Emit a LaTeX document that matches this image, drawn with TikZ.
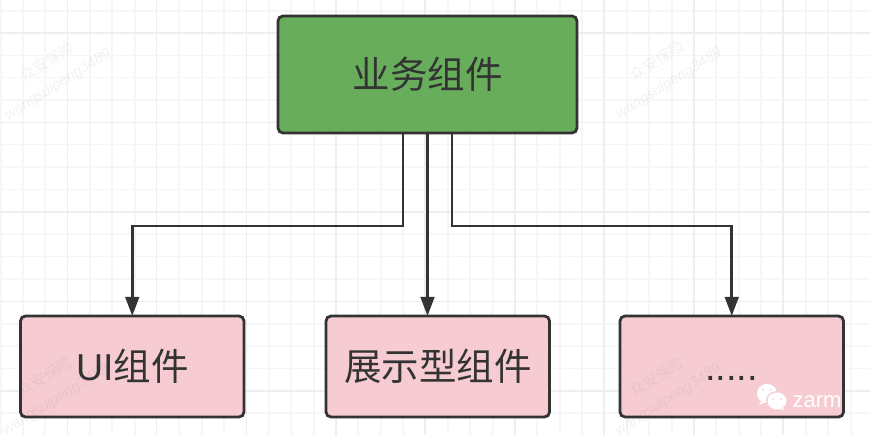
\documentclass[tikz,border=0pt]{standalone}
\usepackage{fontspec}
\setmainfont{Noto Sans CJK SC}
\newfontfamily\latinfont{Liberation Sans}
\usetikzlibrary{arrows.meta}
\definecolor{gridminor}{HTML}{F6F6F6}
\definecolor{gridmajor}{HTML}{EEEEEE}
\definecolor{edgedark}{HTML}{333333}
\definecolor{topgreen}{HTML}{67AD5B}
\definecolor{subpink}{HTML}{F6CCD2}
\tikzset{
  compbox/.style = {draw=edgedark, line width=2.8pt, rounded corners=5pt, inner sep=0pt, outer sep=0pt,
                    text=edgedark, font=\fontsize{37.5}{38}\selectfont, anchor=north west},
  link/.style = {draw=edgedark, line width=2.8pt, -{Triangle[length=19pt, width=13.5pt]}},
  mark text/.style = {black, text opacity=0.05, rotate=32, font=\fontsize{15}{15}\selectfont\itshape}
}
\begin{document}
\begin{tikzpicture}[x=1pt, y=-1pt]
  \useasboundingbox (0, 0) rectangle (870, 435);
  % background grid
  \foreach \gx in {1, 23, 45, 67.7, 90, 112, 135, 156.7, 179, 202, 224, 246.7, 269, 291, 314, 336,
                   358, 381, 403, 425, 448, 470, 493, 515, 537, 560, 582, 604, 627, 649, 672,
                   694, 716, 739, 761, 783, 806, 828, 851}
    \draw [gridminor, line width=1.5pt] (\gx, 0) -- (\gx, 435);
  \foreach \gy in {11, 33, 55.7, 77.7, 100, 122.3, 144.5, 167, 189.5, 212, 234, 256.5, 279, 301.5,
                   324, 346, 368.5, 391, 413}
    \draw [gridminor, line width=1.5pt] (0, \gy) -- (870, \gy);
  \foreach \gx in {67.7, 156.7, 246.7, 336, 425, 515, 604, 694, 783}
    \draw [gridmajor, line width=1.5pt] (\gx, 0) -- (\gx, 435);
  \foreach \gy in {33, 122.3, 212, 301.5, 391}
    \draw [gridmajor, line width=1.5pt] (0, \gy) -- (870, \gy);
  % boxes
  \node [compbox, fill=topgreen, minimum width=299pt, minimum height=117pt] (top) at (278, 16) {业务组件};
  \node [compbox, fill=subpink, minimum width=223.5pt, minimum height=101pt] (ui) at (20.5, 316) {\latinfont UI\normalfont 组件};
  \node [compbox, fill=subpink, minimum width=223.5pt, minimum height=101pt] (show) at (326, 316) {展示型组件};
  \node [compbox, fill=subpink, minimum width=223.5pt, minimum height=101pt] (more) at (620, 316) {};
  \node [anchor=base, inner sep=0pt, text=edgedark, font=\fontsize{38}{38}\selectfont\latinfont] (dots) at (731.5, 381) {.....};
  % connectors
  \draw [link] ([xshift=-24.5pt]top.south) -- ++(0, 93) -| (ui.north);
  \draw [link, line width=3pt] (top.south) -- (top.south |- show.north);
  \draw [link] ([xshift=24.5pt]top.south) -- ++(0, 93) -| (more.north);
  % watermarks
  \node [mark text] (markcn) at (47, 62) {众安保险};
  \node [mark text] (markid) at (58, 85) {\latinfont wangsuipeng3489};
  \node [mark text] (markcnb) at (657, 61) {众安保险};
  \node [mark text] (markidb) at (669, 84) {\latinfont wangsuipeng3489};
  \node [mark text] (markcnc) at (45, 377) {众安保险};
  \node [mark text] (markidc) at (56, 400) {\latinfont wangsuipeng3489};
  \node [mark text] (markcnd) at (657, 377) {众安保险};
  \node [mark text] (markidd) at (668, 400) {\latinfont wangsuipeng3489};
  % logo
  \fill [white] (767, 393.5) ellipse (10pt and 9.5pt);
  \fill [white] (762, 400) -- (759, 405) -- (768, 401) -- cycle;
  \fill [subpink] (777, 401) ellipse (11pt and 10pt);
  \fill [white] (777, 401) ellipse (9.5pt and 8.5pt);
  \fill [white] (781, 407) -- (784, 410) -- (775, 408) -- cycle;
  \foreach \ex/\ey in {763/390, 771/390, 773/399, 781/399}
    \fill [subpink] (\ex, \ey) circle (1pt);
  \node [white, anchor=base, inner sep=0pt, font=\fontsize{22}{22}\selectfont\latinfont] (logo) at (817, 407) {zarm};
\end{tikzpicture}
\end{document}
